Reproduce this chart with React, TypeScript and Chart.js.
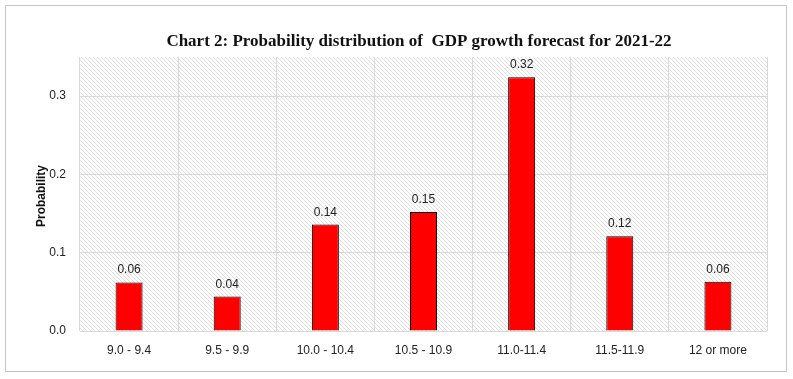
import React, { useEffect, useRef } from "react";
import { Chart, registerables } from "chart.js";

Chart.register(...registerables);

const categories = ["9.0 - 9.4", "9.5 - 9.9", "10.0 - 10.4", "10.5 - 10.9", "11.0-11.4", "11.5-11.9", "12 or more"];
const probabilities = [0.062, 0.044, 0.136, 0.152, 0.324, 0.121, 0.063];
const valueLabels = ["0.06", "0.04", "0.14", "0.15", "0.32", "0.12", "0.06"];
const yTicks = [0, 0.1, 0.2, 0.3];
const chartTitle = "Chart 2: Probability distribution of  GDP growth forecast for 2021-22";
const yTitle = "Probability";

function makePattern(): CanvasPattern | string {
  const c = document.createElement("canvas");
  c.width = 4;
  c.height = 4;
  const g = c.getContext("2d");
  if (!g) return "#eeeeee";
  g.fillStyle = "#ffffff";
  g.fillRect(0, 0, 4, 4);
  g.fillStyle = "#dedede";
  for (let i = 0; i < 4; i++) g.fillRect(i, i, 1, 1);
  const p = g.createPattern(c, "repeat");
  return p || "#eeeeee";
}

export default function App() {
  const ref = useRef<HTMLCanvasElement | null>(null);
  useEffect(() => {
    if (!ref.current) return;
    const pattern = makePattern();
    const decor = {
      id: "decor",
      beforeDraw(chart: any) {
        const { ctx, chartArea } = chart;
        ctx.save();
        ctx.fillStyle = pattern;
        ctx.fillRect(chartArea.left, chartArea.top, chartArea.right - chartArea.left, chartArea.bottom - chartArea.top);
        ctx.restore();
      },
      afterDraw(chart: any) {
        const { ctx, chartArea } = chart;
        ctx.save();
        ctx.fillStyle = "#111111";
        ctx.font = "bold 17px 'Liberation Serif', serif";
        ctx.textAlign = "center";
        ctx.textBaseline = "alphabetic";
        ctx.fillText(chartTitle, 419, 46);
        ctx.translate(45, (chartArea.top + chartArea.bottom) / 2 + 2);
        ctx.rotate(-Math.PI / 2);
        ctx.font = "bold 12px 'Liberation Sans', sans-serif";
        ctx.fillText(yTitle, 0, 0);
        ctx.restore();
        const meta = chart.getDatasetMeta(0);
        ctx.save();
        ctx.font = "12px 'Liberation Sans', sans-serif";
        ctx.fillStyle = "#222222";
        ctx.textAlign = "center";
        ctx.textBaseline = "alphabetic";
        meta.data.forEach((bar: any, i: number) => {
          ctx.fillText(valueLabels[i], bar.x, bar.y - 9);
        });
        ctx.restore();
      },
    };
    const chart = new Chart(ref.current, {
      type: "bar",
      data: {
        labels: categories,
        datasets: [
          {
            data: probabilities,
            backgroundColor: "#ff0000",
            borderColor: "#000000",
            borderWidth: 1,
            barPercentage: 0.275,
            categoryPercentage: 1,
          },
        ],
      },
      options: {
        animation: false,
        responsive: false,
        maintainAspectRatio: false,
        layout: { padding: { left: 0, right: 26, top: 57, bottom: 0 } },
        plugins: { legend: { display: false }, tooltip: { enabled: false }, title: { display: false } },
        scales: {
          x: {
            grid: { color: "#d9d9d9", drawTicks: false, offset: true },
            border: { display: false },
            ticks: { color: "#222222", font: { family: "'Liberation Sans', sans-serif", size: 12 }, padding: 12, maxRotation: 0 },
            afterFit: (s: any) => { s.height = 48; },
          },
          y: {
            min: 0,
            max: 0.35,
            grid: { color: "#d9d9d9", drawTicks: false },
            border: { display: false },
            ticks: {
              color: "#222222",
              font: { family: "'Liberation Sans', sans-serif", size: 12 },
              padding: 14,
              callback: (v: any) => Number(v).toFixed(1),
            },
            afterBuildTicks: (s: any) => { s.ticks = yTicks.map((v) => ({ value: v })); },
            afterFit: (s: any) => { s.width = 80; },
          },
        },
      },
      plugins: [decor],
    });
    return () => chart.destroy();
  }, []);
  return (
    <div style={{ position: "absolute", left: 0, top: 0, width: 793, height: 379, background: "#fff" }}>
      <div style={{ position: "absolute", left: 5, top: 5, width: 780, height: 365, border: "1px solid #c6c6c6" }} />
      <canvas ref={ref} width={793} height={379} style={{ position: "absolute", left: 0, top: 0, width: 793, height: 379 }} />
    </div>
  );
}
